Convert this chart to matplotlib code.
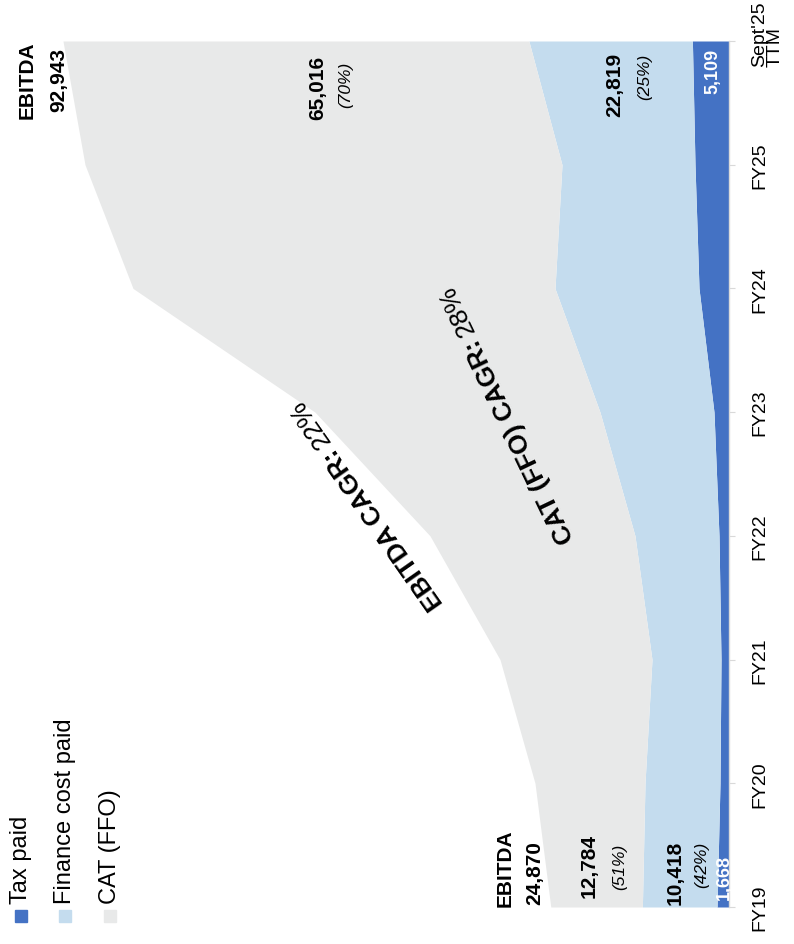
import matplotlib
matplotlib.use('Agg')
import matplotlib.pyplot as plt
from matplotlib.patches import Rectangle
from matplotlib.transforms import ScaledTranslation

plt.rcParams['font.family'] = ['Liberation Sans', 'DejaVu Sans']

# data
periods = ['FY19', 'FY20', 'FY21', 'FY22', 'FY23', 'FY24', 'FY25', "Sept'25\nTTM"]
tax_paid = [1668, 1256, 1116, 1395, 2093, 4186, 4745, 5109]
finance_cost = [10418, 10466, 9629, 11722, 15909, 20095, 18560, 22819]
cat_ffo = [12784, 15350, 21212, 28608, 39771, 58889, 66565, 65016]
ebitda_ends = [24870, 92943]
cagr_text = [('EBITDA CAGR:', '22%'), ('CAT (FFO) CAGR:', '28%')]
series_names = ['Tax paid', 'Finance cost paid', 'CAT (FFO)']

C_TAX = '#4472c4'
C_FIN = '#c4dcee'
C_CAT = '#e8e9e9'

W, H = 794, 945
fig = plt.figure(figsize=(W / 100, H / 100), dpi=100)
ax = fig.add_axes([0, 1 - 908 / H, 729 / W, (908 - 42) / H])

idx = list(range(len(periods)))
s1 = tax_paid
s2 = [a + b for a, b in zip(tax_paid, finance_cost)]
s3 = [a + b for a, b in zip(s2, cat_ffo)]

ax.fill_betweenx(idx, 0, s1, color=C_TAX, lw=0)
ax.fill_betweenx(idx, s1, s2, color=C_FIN, lw=0)
ax.fill_betweenx(idx, s2, s3, color=C_CAT, lw=0)

ax.set_xlim(729 / 0.007166, 0)
ax.set_ylim(0, len(periods) - 1)

for sp in ['left', 'top', 'bottom']:
    ax.spines[sp].set_visible(False)
ax.spines['right'].set_color('#d9d9d9')
ax.spines['right'].set_linewidth(1)
ax.set_xticks([])
ax.yaxis.tick_right()
ax.set_yticks(idx)
ax.set_yticklabels(periods, rotation=90, fontsize=14, ha='left', va='center',
                   linespacing=0.9)
ax.tick_params(axis='y', length=4, color='#d9d9d9', pad=12)
ax.set_facecolor('none')
# the two-line last label sits a little higher in the original
ttm = ax.get_yticklabels()[-1]
ttm.set_transform(ttm.get_transform() + ScaledTranslation(0, 8 / 100, fig.dpi_scale_trans))


def lab(x, y, dx, dy, s, size=15, weight='bold', style='normal', color='black'):
    ax.annotate(s, xy=(x, y), xytext=(dx, dy), textcoords='offset pixels',
                rotation=90, ha='center', va='center', fontsize=size,
                fontweight=weight, fontstyle=style, color=color,
                annotation_clip=False)


first, last = 0, len(periods) - 1
for i, tot, offs in [(first, ebitda_ends[0],
                      dict(eb=(-46, 40), tv=(-16, 35), cv=(-7, 42), cp=(23, 41),
                           fv=(-5, 35), fp=(22, 43), tx=(1, 30))),
                     (last, ebitda_ends[1],
                      dict(eb=(-36, -38), tv=(-4, -38), cv=(22, -46), cp=(50, -43),
                           fv=(4, -43), fp=(34, -35), tx=(2, -29)))]:
    lab(tot, i, *offs['eb'], 'EBITDA')
    lab(tot, i, *offs['tv'], f'{tot:,}')
    cmid = s2[i] + cat_ffo[i] / 2
    lab(cmid, i, *offs['cv'], f'{cat_ffo[i]:,}')
    lab(cmid, i, *offs['cp'], f'({cat_ffo[i] / tot:.0%})', size=12.5,
        weight='normal', style='italic')
    fmid = s1[i] + finance_cost[i] / 2
    lab(fmid, i, *offs['fv'], f'{finance_cost[i]:,}')
    lab(fmid, i, *offs['fp'], f'({finance_cost[i] / tot:.0%})', size=12.5,
        weight='normal', style='italic')
    lab(tax_paid[i] / 2, i, *offs['tx'], f'{tax_paid[i]:,}', size=13, color='white')

# CAGR annotations along the slopes
for (bold, reg), (xv, yv, ang) in zip(cagr_text, [(56400, 3.74, 125), (36400, 4.64, 115.6)]):
    ax.text(xv, yv, bold + ' ', rotation=ang, rotation_mode='anchor', ha='right',
            va='center', fontsize=19, fontweight='bold')
    ax.text(xv, yv, reg, rotation=ang, rotation_mode='anchor', ha='left',
            va='center', fontsize=19)

# legend (rotated)
for name, col, xc in zip(series_names, [C_TAX, C_FIN, C_CAT], [21, 65, 110]):
    fig.patches.append(Rectangle(((xc - 6) / W, 1 - 923 / H), 12 / W, 12 / H,
                                 transform=fig.transFigure, color=col))
    fig.text(xc / W, 1 - 904 / H, name, rotation=90, ha='center', va='bottom',
             fontsize=17)

fig.savefig('out.png', dpi=100)
